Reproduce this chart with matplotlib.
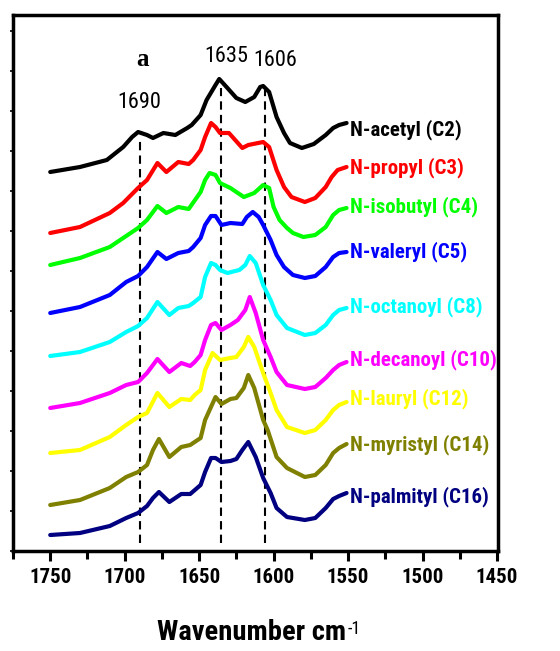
import matplotlib
matplotlib.use("Agg")
import matplotlib.pyplot as plt
from matplotlib import font_manager as fm
from matplotlib.ticker import MultipleLocator

_available = {f.name for f in fm.fontManager.ttflist}
_prio = ['Liberation Sans Narrow', 'Arial Narrow', 'Nimbus Sans Narrow', 'Roboto Condensed', 'PT Sans Narrow',
         'Archivo Narrow', 'Open Sans Condensed', 'Fira Sans Condensed', 'IBM Plex Sans Condensed',
         'Barlow Semi Condensed']
_found = [p for p in _prio if p in _available]
NARROW = _found[:1] + ['Liberation Sans', 'DejaVu Sans']
plt.rcParams['font.family'] = NARROW

# ---- data (wavenumber in cm-1, stacked absorbance in arbitrary units) ----
wn_c2 = [1750, 1730, 1712, 1701, 1695, 1691, 1685, 1681, 1674, 1666, 1658, 1655, 1649, 1645, 1639, 1636.5,
         1631, 1625, 1619, 1613, 1609, 1607, 1603, 1598, 1593, 1589, 1581, 1573, 1565, 1560, 1556, 1551]
ab_c2 = [379, 384, 391, 404, 414, 419, 416, 413, 418, 416, 423, 426, 436, 451, 466, 472,
         463, 453, 449, 454, 464, 465, 459, 434, 418, 408, 403, 407, 416, 423, 426, 428]

wn_c3 = [1750, 1730, 1710, 1701, 1691, 1685, 1678, 1672, 1664, 1657, 1654, 1649, 1646, 1642, 1639, 1636,
         1630, 1627, 1621, 1617, 1607, 1603, 1598, 1593, 1588, 1579, 1572, 1565, 1561, 1557, 1551]
ab_c3 = [318, 324, 338, 348, 363, 371, 388, 379, 389, 387, 391, 401, 414, 428, 424, 418,
         418, 413, 403, 406, 409, 404, 381, 364, 354, 349, 353, 364, 374, 381, 384]

wn_c4 = [1750, 1730, 1710, 1698, 1691, 1685, 1678, 1672, 1664, 1657, 1649, 1646, 1643, 1639, 1636, 1629,
         1620, 1613, 1607, 1603, 1600, 1596, 1591, 1587, 1580, 1572, 1565, 1560, 1556, 1551]
ab_c4 = [286, 293, 304, 316, 323, 331, 345, 338, 344, 342, 359, 371, 378, 376, 368, 363,
         354, 358, 366, 363, 344, 331, 323, 318, 314, 316, 324, 336, 341, 343]

wn_c5 = [1750, 1730, 1710, 1699, 1691, 1685, 1678, 1672, 1664, 1657, 1654, 1649, 1646, 1642, 1639, 1635,
         1629, 1621, 1618, 1614, 1610, 1607, 1602, 1598, 1593, 1587, 1579, 1572, 1565, 1560, 1556, 1551]
ab_c5 = [238, 244, 256, 269, 275, 284, 299, 292, 298, 300, 304, 313, 326, 335, 335, 326,
         328, 327, 334, 339, 334, 326, 311, 296, 284, 276, 273, 275, 284, 294, 298, 299]

wn_c8 = [1750, 1730, 1710, 1699, 1691, 1685, 1678, 1670, 1664, 1657, 1654, 1649, 1646, 1642, 1639, 1636,
         1631, 1623, 1619, 1616, 1612, 1607, 1602, 1598, 1591, 1579, 1572, 1565, 1560, 1556, 1551]
ab_c8 = [195, 199, 209, 219, 225, 233, 249, 236, 243, 245, 248, 254, 274, 288, 286, 281,
         278, 281, 286, 295, 288, 266, 251, 236, 223, 216, 218, 226, 236, 241, 243]

wn_c10 = [1750, 1730, 1710, 1699, 1691, 1685, 1678, 1670, 1662, 1656, 1653, 1649, 1646, 1642, 1639, 1635,
          1629, 1624, 1619, 1616, 1612, 1607, 1602, 1598, 1591, 1579, 1572, 1565, 1560, 1556, 1551]
ab_c10 = [143, 148, 158, 166, 169, 178, 192, 179, 188, 185, 189, 196, 211, 226, 228, 221,
          226, 231, 241, 254, 238, 211, 194, 179, 166, 162, 164, 173, 181, 186, 189]

wn_c12 = [1750, 1730, 1710, 1699, 1691, 1685, 1678, 1670, 1662, 1656, 1653, 1649, 1646, 1641, 1636, 1629,
          1625, 1620, 1617, 1613, 1607, 1602, 1598, 1591, 1579, 1572, 1565, 1560, 1556, 1551]
ab_c12 = [98, 101, 114, 126, 134, 138, 158, 144, 152, 151, 156, 161, 181, 198, 191, 193,
          194, 204, 214, 204, 178, 158, 141, 124, 118, 121, 131, 141, 146, 149]

wn_c14 = [1750, 1730, 1710, 1699, 1691, 1685, 1681, 1677, 1670, 1662, 1656, 1649, 1646, 1639, 1635, 1629,
          1625, 1620, 1617, 1613, 1607, 1604, 1598, 1591, 1579, 1572, 1565, 1560, 1556, 1551]
ab_c14 = [46, 51, 63, 74, 79, 86, 101, 112, 94, 104, 106, 113, 131, 154, 147, 152,
          153, 163, 176, 163, 131, 121, 94, 83, 74, 76, 86, 98, 103, 107]

wn_c16 = [1750, 1730, 1710, 1699, 1691, 1685, 1681, 1677, 1670, 1662, 1656, 1649, 1646, 1642, 1639, 1635,
          1629, 1625, 1621, 1617, 1612, 1607, 1602, 1598, 1591, 1579, 1572, 1565, 1560, 1556, 1551]
ab_c16 = [16, 18, 25, 33, 38, 45, 53, 59, 49, 57, 57, 66, 79, 93, 93, 89,
          90, 92, 101, 109, 94, 73, 58, 43, 34, 31, 33, 43, 52, 55, 58]

labels = ['N-acetyl (C2)', 'N-propyl (C3)', 'N-isobutyl (C4)', 'N-valeryl (C5)', 'N-octanoyl (C8)',
          'N-decanoyl (C10)', 'N-lauryl (C12)', 'N-myristyl (C14)', 'N-palmityl (C16)']
colors = ['#000000', '#FF0000', '#00FF00', '#0000FF', '#00FFFF', '#FF00FF', '#FFFF00', '#808000', '#000080']
label_dy = [-7, -1, 1, 0, 1, 2, 3, -1, -4]

peak_lines = [1690, 1635, 1606]
peak_line_top = [414, 463, 461]
peak_text = ['1690', '1635', '1606']
peak_text_x = [1690, 1632, 1599]
peak_text_y = [448, 495, 490]

series = [(wn_c2, ab_c2), (wn_c3, ab_c3), (wn_c4, ab_c4), (wn_c5, ab_c5), (wn_c8, ab_c8),
          (wn_c10, ab_c10), (wn_c12, ab_c12), (wn_c14, ab_c14), (wn_c16, ab_c16)]

fig = plt.figure(figsize=(5.6, 6.51), dpi=100)
ax = fig.add_axes([13 / 560, 1 - 551 / 651, 485 / 560, 536 / 651])

for x, top in zip(peak_lines, peak_line_top):
    ax.plot([x, x], [8, top], color='black', lw=1.5, ls=(0, (4, 2.5)), zorder=1)

for (wn, ab), lab, c, dy in zip(series, labels, colors, label_dy):
    ax.plot(wn, ab, color=c, lw=3.0, solid_joinstyle='round', solid_capstyle='round', zorder=2)
    ax.text(wn[-1] - 2.5, ab[-1] + dy, lab, color=c, fontsize=15, fontweight='bold',
            family=NARROW, ha='left', va='center')

for t, x, y in zip(peak_text, peak_text_x, peak_text_y):
    ax.text(x, y, t, fontsize=16, ha='center', va='center', family=NARROW)
ax.text(1688, 491, 'a', fontsize=18, fontweight='bold', family=['Liberation Serif', 'DejaVu Serif'],
        ha='center', va='center')

ax.set_xlim(1775, 1449.3)
ax.set_ylim(0, 536)
ax.xaxis.set_major_locator(MultipleLocator(50))
ax.xaxis.set_minor_locator(MultipleLocator(25))
ax.yaxis.set_major_locator(MultipleLocator(40))
ax.tick_params(axis='x', which='major', direction='out', length=7, width=2.2, pad=5, labelsize=15)
ax.tick_params(axis='x', which='minor', direction='out', length=6, width=2.2)
ax.tick_params(axis='y', which='major', direction='out', length=2, width=1.2, labelleft=False)
for lbl in ax.get_xticklabels():
    lbl.set_fontweight('bold')
for s in ax.spines.values():
    s.set_linewidth(2.5)

xl = fig.text(252 / 560, 1 - 633 / 651, 'Wavenumber cm', fontsize=20.5, fontweight='bold',
              family=NARROW, ha='center', va='center')
fig.canvas.draw()
bb = xl.get_window_extent()
fig.text((bb.x1 + 1) / fig.bbox.width, (bb.y1 - 1) / fig.bbox.height, '-1', fontsize=13,
         family=NARROW, ha='left', va='top')

fig.savefig('out.png', dpi=100)
